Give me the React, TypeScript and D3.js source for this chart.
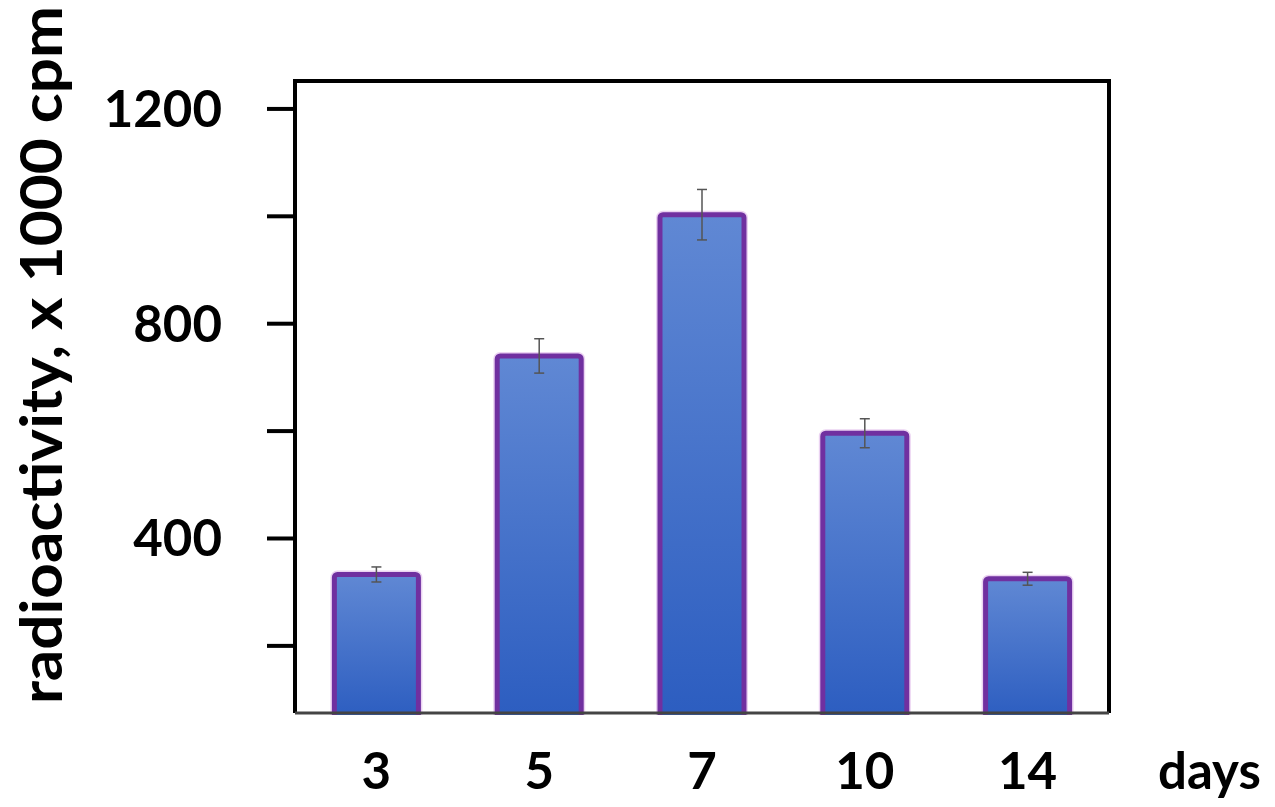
import React from "react";
import * as d3 from "d3";

const days = ["3", "5", "7", "10", "14"];
const values = [333, 740, 1003, 596, 325];
const errors = [14, 32, 47, 27, 12];
const yTicks = [200, 400, 600, 800, 1000, 1200];
const yTickLabels = [400, 800, 1200];
const yTitle = "radioactivity, x 1000 cpm";
const xUnit = "days";

const W = 1275;
const H = 807;
const left = 295;
const right = 1109;
const top = 81;
const bottom = 713;
const FONT = "Lato, 'Open Sans', 'Liberation Sans', sans-serif";

export default function App() {
  const x = d3
    .scaleBand<string>()
    .domain(days)
    .range([left, right])
    .paddingInner(0.484)
    .paddingOuter(0.242);
  const y = d3.scaleLinear().domain([75, 1252]).range([bottom, top]);
  const bw = x.bandwidth();

  return (
    <svg
      width={W}
      height={H}
      style={{ position: "absolute", left: 0, top: 0, background: "#fff" }}
    >
      <defs>
        <linearGradient id="barGrad" x1="0" y1="0" x2="0" y2="1">
          <stop offset="0%" stopColor="#6088D4" />
          <stop offset="100%" stopColor="#2C5DC0" />
        </linearGradient>
      </defs>

      {/* bars */}
      {days.map((d, i) => {
        const x0 = x(d) as number;
        const yt = y(values[i]);
        return (
          <g key={d}>
            <rect
              x={x0}
              y={yt}
              width={bw}
              height={bottom - yt + 6}
              rx={3}
              fill="none"
              stroke="#EBD3F2"
              strokeWidth={8}
            />
            <rect
              x={x0}
              y={yt}
              width={bw}
              height={bottom - yt + 6}
              rx={3}
              fill="url(#barGrad)"
              stroke="#7030A0"
              strokeWidth={5}
            />
          </g>
        );
      })}

      {/* error bars */}
      {days.map((d, i) => {
        const cx = (x(d) as number) + bw / 2;
        const y1 = y(values[i] + errors[i]);
        const y2 = y(values[i] - errors[i]);
        return (
          <g key={"e" + d} stroke="#555" strokeWidth={1.5}>
            <line x1={cx} x2={cx} y1={y1} y2={y2} />
            <line x1={cx - 5} x2={cx + 5} y1={y1} y2={y1} />
            <line x1={cx - 5} x2={cx + 5} y1={y2} y2={y2} />
          </g>
        );
      })}

      {/* white mask under bottom axis */}
      <rect x={left - 10} y={bottom + 2} width={right - left + 20} height={20} fill="#fff" />

      {/* frame */}
      <line x1={left} x2={right} y1={top} y2={top} stroke="#000" strokeWidth={4} />
      <line x1={right} x2={right} y1={top - 2} y2={bottom} stroke="#000" strokeWidth={4} />
      <line x1={left} x2={left} y1={top - 2} y2={bottom} stroke="#000" strokeWidth={4} />
      <line x1={left} x2={right} y1={bottom} y2={bottom} stroke="#444" strokeWidth={3} />

      {/* y ticks */}
      {yTicks.map((t) => (
        <line
          key={"t" + t}
          x1={267}
          x2={left}
          y1={y(t)}
          y2={y(t)}
          stroke="#000"
          strokeWidth={4}
        />
      ))}
      {yTickLabels.map((t) => (
        <text
          key={"l" + t}
          x={222}
          y={y(t) + 18}
          textAnchor="end"
          fontFamily={FONT}
          fontWeight={700}
          fontSize={51}
          fill="#000"
        >
          {t}
        </text>
      ))}

      {/* x labels */}
      {days.map((d) => (
        <text
          key={"x" + d}
          x={(x(d) as number) + bw / 2}
          y={789}
          textAnchor="middle"
          fontFamily={FONT}
          fontWeight={700}
          fontSize={51}
          fill="#000"
        >
          {d}
        </text>
      ))}
      <text
        x={1158}
        y={789}
        fontFamily={FONT}
        fontWeight={700}
        fontSize={51}
        fill="#000"
      >
        {xUnit}
      </text>

      {/* y title */}
      <text
        transform="translate(62,355) rotate(-90)"
        textAnchor="middle"
        fontFamily={FONT}
        fontWeight={700}
        fontSize={58}
        textLength={698}
        lengthAdjust="spacingAndGlyphs"
        fill="#000"
      >
        {yTitle}
      </text>
    </svg>
  );
}
